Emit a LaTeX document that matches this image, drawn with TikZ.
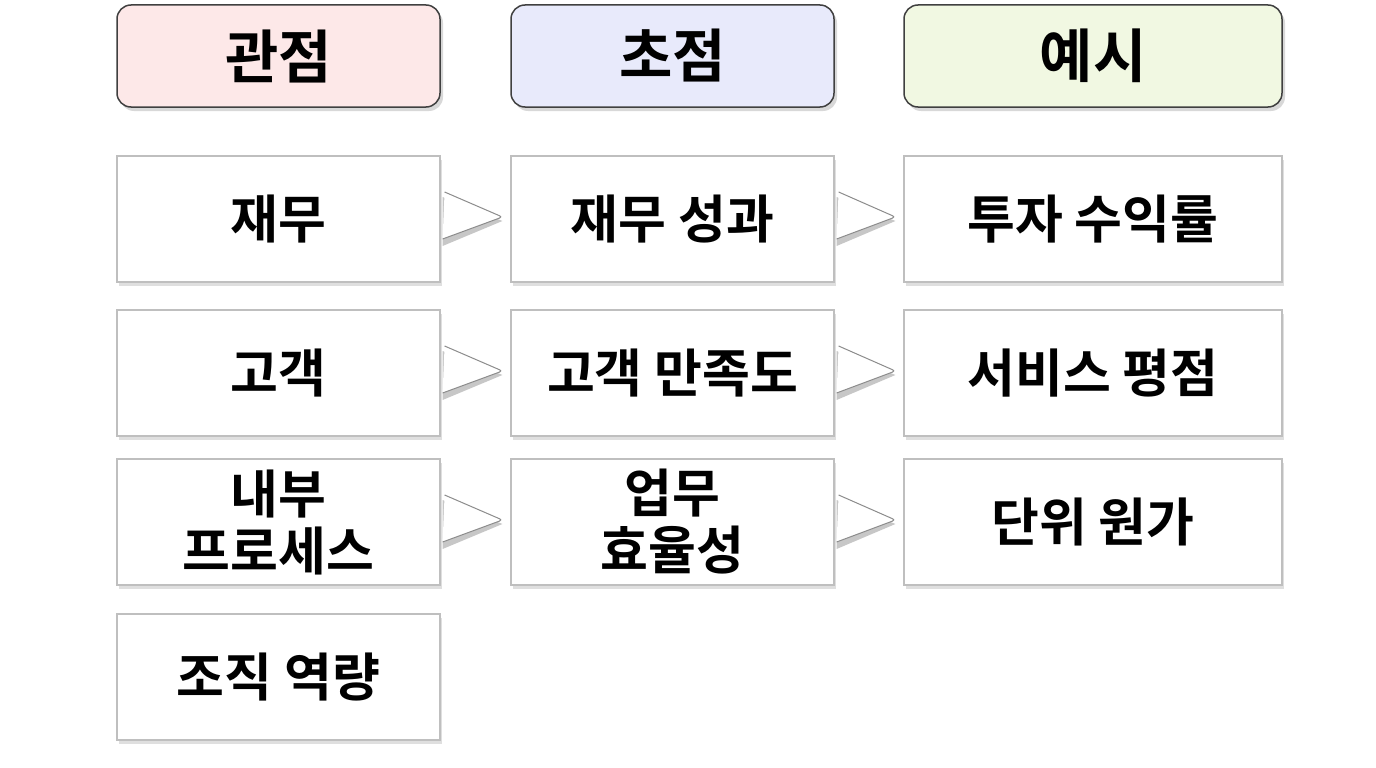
\documentclass[tikz,border=0pt]{standalone}
\usepackage{fontspec}
\setmainfont{Noto Sans CJK KR}[BoldFont={Noto Sans CJK KR Bold}]
\usetikzlibrary{shadows}
\definecolor{pk}{HTML}{FDE8E8}
\definecolor{lv}{HTML}{E8EAFB}
\definecolor{gn}{HTML}{F1F8E2}
\begin{document}
\begin{tikzpicture}[x=1pt,y=-1pt,
 hd/.style={draw=black!75,line width=1.5pt,rounded corners=14pt,minimum height=102pt,font=\bfseries\fontsize{58}{60}\selectfont,drop shadow={shadow xshift=3pt,shadow yshift=-4pt,opacity=0.3}},
 bx/.style={draw=black!25,line width=1.2pt,fill=white,minimum height=126pt,drop shadow={shadow xshift=2pt,shadow yshift=-4pt,opacity=0.25}},
 tx/.style={align=center,font=\bfseries\fontsize{52}{57}\selectfont},
 ar/.style={draw=black!45,line width=1pt,fill=white,rounded corners=3pt}]
\useasboundingbox[fill=white] (0,0) rectangle (1376,768);
\node[hd,fill=pk,minimum width=323pt] (h1) at (278.5,56) {관점};
\node[hd,fill=lv,minimum width=323pt] (h2) at (672.5,56) {초점};
\node[hd,fill=gn,minimum width=378pt] (h3) at (1093,56) {예시};
\foreach \n/\y in {1/219,2/373,3/522,4/677}{\node[bx,minimum width=323pt] (a\n) at (278.5,\y) {};}
\foreach \n/\y in {1/219,2/373,3/522}{\node[bx,minimum width=323pt] (b\n) at (672.5,\y) {};}
\foreach \n/\y in {1/219,2/373,3/522}{\node[bx,minimum width=378pt] (c\n) at (1093,\y) {};}
\node[tx] (ta1) at (a1) {재무};
\node[tx] (ta2) at (a2) {고객};
\node[tx] (ta3) at (a3) {내부\\프로세스};
\node[tx] (ta4) at (a4) {조직 역량};
\node[tx] (tb1) at (b1) {재무 성과};
\node[tx] (tb2) at (b2) {고객 만족도};
\node[tx] (tb3) at (b3) {업무\\효율성};
\node[tx] (tc1) at (c1) {투자 수익률};
\node[tx] (tc2) at (c2) {서비스 평점};
\node[tx] (tc3) at (c3) {단위 원가};
\foreach \l/\r in {a1/b1,a2/b2,a3/b3,b1/c1,b2/c2,b3/c3}{
 \fill[black!22] ([shift={(2,-22)}]\l.east) -- ([shift={(-8,2)}]\r.west) -- ([shift={(2,27)}]\l.east) -- cycle;
 \path[ar] ([shift={(4,-27)}]\l.east) -- ([shift={(-8,-2)}]\r.west) -- ([shift={(2,20)}]\l.east);
}
\end{tikzpicture}
\end{document}
